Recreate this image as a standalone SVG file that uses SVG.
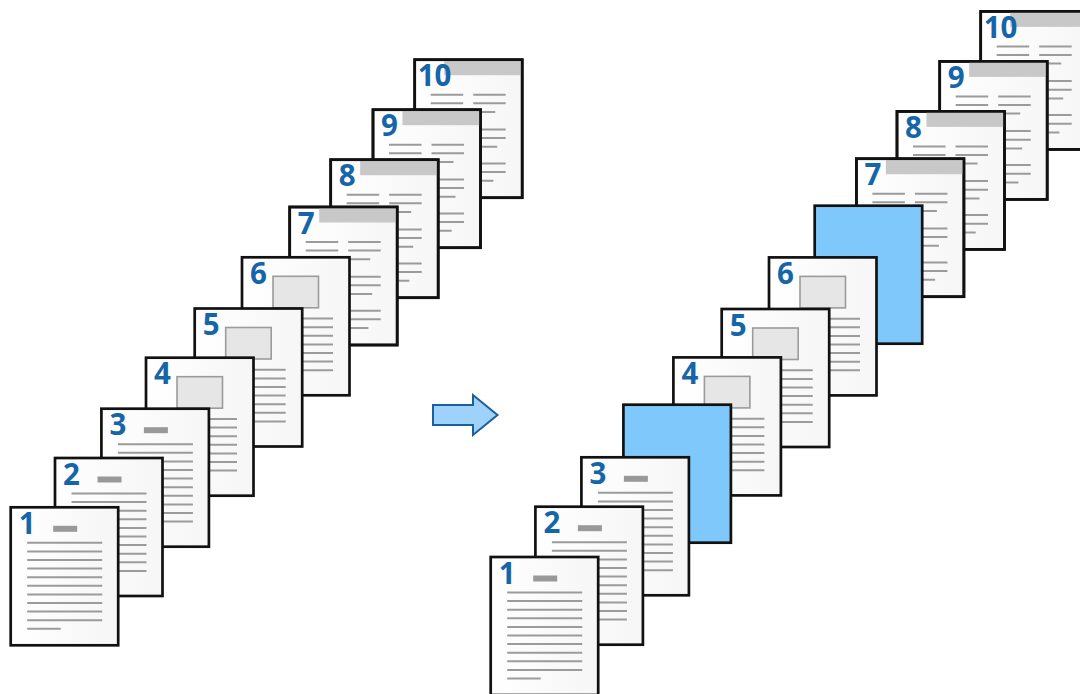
<svg xmlns="http://www.w3.org/2000/svg" xmlns:xlink="http://www.w3.org/1999/xlink" width="1080" height="694" viewBox="0 0 1080 694">
<style>
.pg{fill:url(#pgGrad);stroke:#111;stroke-width:2.7}
.blue{fill:#7fc8fc;stroke:#111;stroke-width:2.7}
.ln{stroke:#9b9b9b;stroke-width:2;fill:none}
.num{font-family:"Open Sans","DejaVu Sans",sans-serif;font-weight:700;font-size:29.5px;fill:#1565a9}
.bar{fill:#999}
.box{fill:#e6e6e6;stroke:#9b9b9b;stroke-width:1.6}
.hdr{fill:#c8c8c8}
.arrow{fill:#9fd2fa;stroke:#1a5fa0;stroke-width:2;stroke-linejoin:miter}
</style>
<defs>
<linearGradient id="pgGrad" x1="0" y1="0" x2="1" y2="0">
<stop offset="0" stop-color="#ffffff"/>
<stop offset="1" stop-color="#f6f6f6"/>
</linearGradient>
<g id="tA">
<rect class="pg" x="0" y="0" width="107.5" height="138"/>
<rect class="bar" x="42.5" y="18.5" width="24" height="6"/>
<path class="ln" d="M16.5 35.5H91.5M16.5 44.1H91.5M16.5 52.7H91.5M16.5 61.3H91.5M16.5 69.9H91.5M16.5 78.5H91.5M16.5 87.1H91.5M16.5 95.7H91.5M16.5 104.3H91.5M16.5 112.9H91.5M16.5 121.5H50"/>
</g>
<g id="tB">
<rect class="pg" x="0" y="0" width="107.5" height="138"/>
<rect class="box" x="31" y="19" width="45.5" height="31.5"/>
<path class="ln" d="M16.5 61.3H91M16.5 69.9H91M16.5 78.5H91M16.5 87.1H91M16.5 95.7H91M16.5 104.3H91M16.5 112.9H91"/>
</g>
<g id="tC">
<rect class="pg" x="0" y="0" width="107.5" height="138"/>
<rect class="hdr" x="29.5" y="0" width="78" height="15.5"/>
<rect x="0" y="0" width="107.5" height="138" fill="none" stroke="#111" stroke-width="2.7"/>
<path class="ln" d="M16 35H48.5M16 43.6H48.5M16 69.7H48.5M16 78.3H48.5M16 103.7H48.5M16 112.3H48.5M58.5 35H91M58.5 43.6H91M58.5 52.2H80.5M58.5 69.7H91M58.5 78.3H91M58.5 87H82.5M58.5 103.7H91M58.5 112.3H91M58.5 121H78.7"/>
</g>
</defs>

<g id="left-stack">
<g id="L10" transform="translate(414.7,59.7)"><use href="#tC"/><text class="num" x="3" y="26.5">10</text></g>
<g id="L9" transform="translate(373,109.7)"><use href="#tC"/><text class="num" x="8" y="26.5">9</text></g>
<g id="L8" transform="translate(330.7,159.7)"><use href="#tC"/><text class="num" x="8" y="26.5">8</text></g>
<g id="L7" transform="translate(289.7,207)"><use href="#tC"/><text class="num" x="8" y="26.5">7</text></g>
<g id="L6" transform="translate(242,257.3)"><use href="#tB"/><text class="num" x="8" y="26.5">6</text></g>
<g id="L5" transform="translate(194.7,308.5)"><use href="#tB"/><text class="num" x="8" y="26.5">5</text></g>
<g id="L4" transform="translate(146,357.7)"><use href="#tB"/><text class="num" x="8" y="26.5">4</text></g>
<g id="L3" transform="translate(101.4,408.7)"><use href="#tA"/><text class="num" x="8" y="26.5">3</text></g>
<g id="L2" transform="translate(55,458)"><use href="#tA"/><text class="num" x="8" y="26.5">2</text></g>
<g id="L1" transform="translate(10.7,507.3)"><use href="#tA"/><text class="num" x="8" y="26.5">1</text></g>
</g>

<g id="connectors">
<polygon class="arrow" points="433,405 473,405 473,395 497.5,415 473,435 473,425 433,425"/>
</g>

<g id="right-stack">
<g id="R10" transform="translate(980.7,11.4)"><use href="#tC"/><text class="num" x="3" y="26.5">10</text></g>
<g id="R9" transform="translate(939.7,61.4)"><use href="#tC"/><text class="num" x="8" y="26.5">9</text></g>
<g id="R8" transform="translate(897,111.4)"><use href="#tC"/><text class="num" x="8" y="26.5">8</text></g>
<g id="R7" transform="translate(856.4,158.7)"><use href="#tC"/><text class="num" x="8" y="26.5">7</text></g>
<g id="RblueB" transform="translate(814.7,205.7)"><rect class="blue" x="0" y="0" width="107.5" height="138"/></g>
<g id="R6" transform="translate(769,257.4)"><use href="#tB"/><text class="num" x="8" y="26.5">6</text></g>
<g id="R5" transform="translate(721.7,309)"><use href="#tB"/><text class="num" x="8" y="26.5">5</text></g>
<g id="R4" transform="translate(673.4,357.4)"><use href="#tB"/><text class="num" x="8" y="26.5">4</text></g>
<g id="RblueA" transform="translate(623.4,404.7)"><rect class="blue" x="0" y="0" width="107.5" height="138"/></g>
<g id="R3" transform="translate(581.4,457.3)"><use href="#tA"/><text class="num" x="8" y="26.5">3</text></g>
<g id="R2" transform="translate(535.4,506.7)"><use href="#tA"/><text class="num" x="8" y="26.5">2</text></g>
<g id="R1" transform="translate(490.7,557)"><use href="#tA"/><text class="num" x="8" y="26.5">1</text></g>
</g>
</svg>
